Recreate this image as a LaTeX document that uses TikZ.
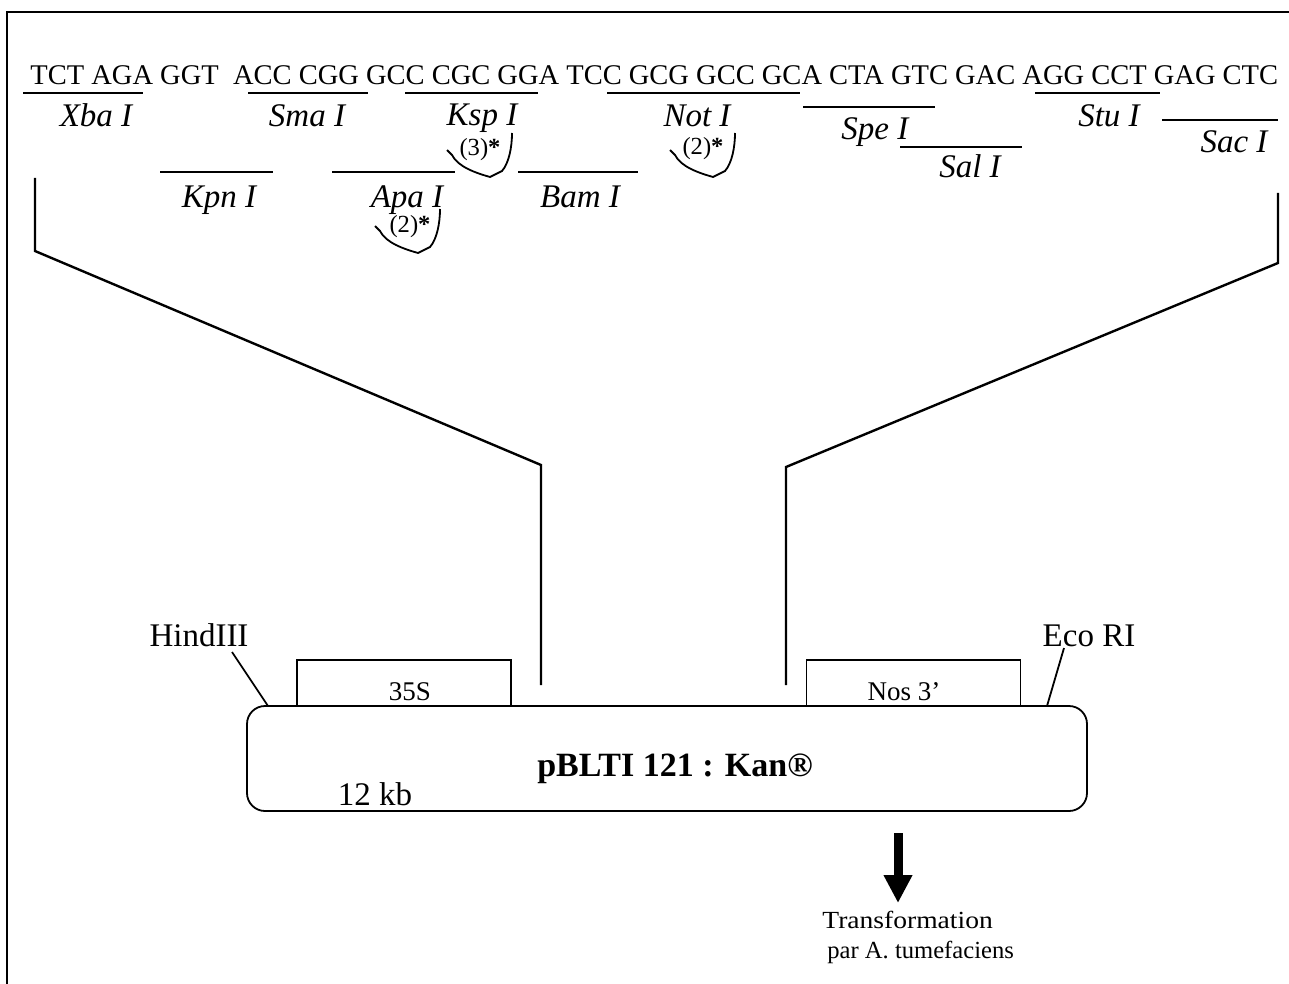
\documentclass[tikz,border=0pt]{standalone}
\usepackage{fontspec}
\setmainfont{Liberation Serif}
\usetikzlibrary{arrows.meta}
\begin{document}
\begin{tikzpicture}[x=0.5pt,y=-0.5pt,
  seq/.style={anchor=base west, inner sep=0pt, font=\fontsize{14.25}{16}\selectfont},
  enz/.style={anchor=base, inner sep=0pt, font=\fontsize{16.5}{18}\selectfont\itshape},
  uline/.style={line width=1.1pt},
  big/.style={line width=1.2pt},
  note/.style={inner sep=0pt, font=\fontsize{12.3}{14}\selectfont},
  brkline/.style={line width=0.9pt},
  lbl/.style={anchor=base, inner sep=0pt, font=\fontsize{16.5}{18}\selectfont},
  boxlbl/.style={anchor=base, inner sep=0pt, font=\fontsize{13.5}{15}\selectfont},
  small/.style={anchor=base west, inner sep=0pt, font=\fontsize{12.3}{14}\selectfont},
  gene/.style={draw, line width=0.9pt, minimum width=107pt, minimum height=23pt, inner sep=0pt}
]
\useasboundingbox (0,0) rectangle (1289,984);
% frame
\draw[line width=1pt] (1289,12) -- (7,12) -- (7,984);

% sequence
\node[seq] (seqtext) at (30,85) {TCT AGA GGT\ \ ACC CGG GCC CGC GGA TCC GCG GCC GCA CTA GTC GAC AGG CCT GAG CTC};

% underlines / enzyme bars
\draw[uline] (23,93) -- (143,93);
\draw[uline] (248,93) -- (368,93);
\draw[uline] (405,93) -- (538,93);
\draw[uline] (607,93) -- (800,93);
\draw[uline] (803,107) -- (935,107);
\draw[uline] (1035,93) -- (1160,93);
\draw[uline] (1162,120) -- (1278,120);
\draw[uline] (900,147) -- (1022,147);
\draw[uline] (160,172) -- (273,172);
\draw[uline] (332,172) -- (455,172);
\draw[uline] (518,172) -- (638,172);

% enzyme names
\node[enz] (xba) at (96,127) {Xba I};
\node[enz] (sma) at (307,127) {Sma I};
\node[enz] (ksp) at (482,126) {Ksp I};
\node[enz] (noti) at (697,127) {Not I};
\node[enz,anchor=base west] (spe) at (841,140) {Spe I};
\node[enz] (sal) at (970,178) {Sal I};
\node[enz] (stu) at (1109,127) {Stu I};
\node[enz] (sac) at (1234,153) {Sac I};
\node[enz] (kpn) at (219,207) {Kpn I};
\node[enz] (apa) at (407,207) {Apa I};
\node[enz] (bam) at (580,207) {Bam I};

% bracket notes
\tikzset{brk/.pic={
  \draw[brkline] (-43,-27) -- (-38,-22) .. controls (-32,-10) and (-14,-4) .. (0,0)
     -- (12,-6) .. controls (19,-14) and (22,-30) .. (22,-44);
}}
\pic at (490,177) {brk};
\node[note] (nksp) at (480,150) {(3)\textbf{*}};
\pic at (713,177) {brk};
\node[note] (nnot) at (703,149) {(2)\textbf{*}};
\pic at (418,253) {brk};
\node[note] (napa) at (410,227) {(2)\textbf{*}};

% expansion lines
\coordinate (l1) at (35,178);
\coordinate (l2) at (35,251);
\coordinate (l3) at (541,465);
\coordinate (l4) at (541,685);
\coordinate (r1) at (1278,193);
\coordinate (r2) at (1278,263);
\coordinate (r3) at (786,467);
\coordinate (r4) at (786,685);
\draw[big] (l1) -- (l2) -- (l3) -- (l4);
\draw[big] (r1) -- (r2) -- (r3) -- (r4);

% plasmid
\node[gene] (p35) at (404,683) {};
\node[gene] (nos) at (913.5,683) {};
\node[draw, line width=0.9pt, rounded corners=9pt, fill=white, minimum width=420pt, minimum height=52.5pt, inner sep=0pt] (plasmid) at (667,758.5) {};
\node[boxlbl] (t35) at (410,700) {35S};
\node[boxlbl] (tnos) at (904,700) {Nos 3’};
\node[anchor=base, inner sep=0pt, font=\fontsize{17}{19}\selectfont\bfseries] (name) at (675,776) {pBLTI 121 : Kan®};
\node[lbl] (kb) at (375,805) {12 kb};

\node[lbl] (hind) at (199,646) {HindIII};
\node[lbl] (eco) at (1089,646) {Eco RI};
\coordinate (h1) at (232,652);
\coordinate (h2) at (268,706);
\coordinate (e1) at (1064,648);
\coordinate (e2) at (1047,706);
\draw[line width=0.9pt] (h1) -- (h2);
\draw[line width=0.9pt] (e1) -- (e2);

% arrow
\coordinate (a1) at (898,833);
\coordinate (a2) at (898,903);
\draw[line width=4.5pt, -{Triangle[width=13.5pt,length=14pt]}] (a1) -- (a2);
\node[small] (tr1) at (822,928) {\scalebox{1.12}[1]{Transformation}};
\node[small] (tr2) at (827,958) {par A. tumefaciens};
\end{tikzpicture}
\end{document}
